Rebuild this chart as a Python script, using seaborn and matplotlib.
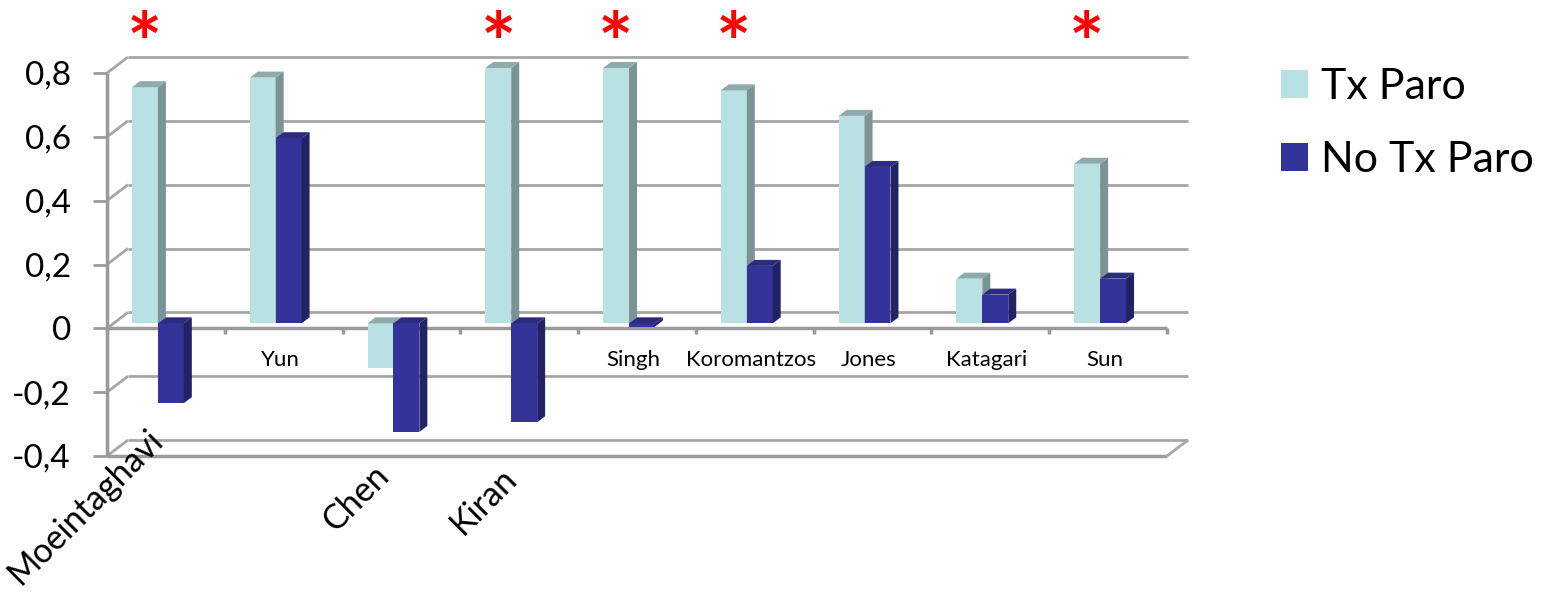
import numpy as np
import pandas as pd
import seaborn as sns
import matplotlib.pyplot as plt
from matplotlib.patches import Polygon, Patch
from matplotlib.transforms import ScaledTranslation

# Data
studies = ["Moeintaghavi", "Yun", "Chen", "Kiran", "Singh", "Koromantzos", "Jones", "Katagari", "Sun"]
tx_paro = [0.74, 0.77, -0.14, 0.80, 0.80, 0.73, 0.65, 0.14, 0.50]
no_tx_paro = [-0.25, 0.58, -0.34, -0.31, -0.01, 0.18, 0.49, 0.09, 0.14]
series = ["Tx Paro", "No Tx Paro"]
significant = ["Moeintaghavi", "Kiran", "Singh", "Koromantzos", "Sun"]
rotated_labels = ["Moeintaghavi", "Chen", "Kiran"]
y_ticks = [-0.4, -0.2, 0, 0.2, 0.4, 0.6, 0.8]
y_tick_labels = ["-0,4", "-0,2", "0", "0,2", "0,4", "0,6", "0,8"]

df = pd.DataFrame({
    "study": studies * 2,
    "group": [series[0]] * len(studies) + [series[1]] * len(studies),
    "value": tx_paro + no_tx_paro,
})

plt.rcParams["font.family"] = ["Lato", "DejaVu Sans"]

face = {"Tx Paro": "#B9E0E2", "No Tx Paro": "#333399"}
side = {"Tx Paro": "#7A9394", "No Tx Paro": "#222266"}
top = {"Tx Paro": "#8FAAAB", "No Tx Paro": "#2B2B80"}
grid_col = "#A6A6A6"

W, H = 1542, 605
fig = plt.figure(figsize=(W / 100, H / 100), dpi=100)
ax = fig.add_axes([107 / W, (H - 456) / H, 1060 / W, 383 / H])

sns.barplot(data=df, x="study", y="value", hue="group", order=studies, hue_order=series,
            palette=[face[s] for s in series], width=0.44, saturation=1, linewidth=0,
            legend=False, ax=ax, zorder=3)

ax.set_xlim(-0.5, len(studies) - 0.5)
ax.set_ylim(-0.4, 0.8)

# pixel -> data scale
p0 = ax.transData.transform((0, 0))
p1 = ax.transData.transform((1, 1))
px_x, px_y = p1[0] - p0[0], p1[1] - p0[1]

# back wall offset, bar plane offset, bar depth
bx, by = 21 / px_x, 16 / px_y
ddx, ddy = 8 / px_x, 6 / px_y
bar_trans = ax.transData + ScaledTranslation(-8 / 100, 5 / 100, fig.dpi_scale_trans)

x0, x1 = -0.5, len(studies) - 0.5
kw = dict(color=grid_col, lw=2, clip_on=False, zorder=1, solid_capstyle="butt")
for v in y_ticks:
    ax.plot([x0 + bx, x1 + bx], [v + by, v + by], **kw)
    ax.plot([x0, x0 + bx], [v, v + by], **kw)
ax.plot([x1, x1 + bx], [-0.4, -0.4 + by], **kw)

front = dict(color="#9A9A9A", lw=2.5, clip_on=False, zorder=2, solid_capstyle="butt")
ax.plot([x0, x1], [0, 0], **front)
ax.plot([x0, x1], [-0.4, -0.4], **front)
ax.plot([x0, x0], [-0.4, 0.8], **front)
for b in np.arange(x0, x1 + 0.01, 1):
    ax.plot([b, b], [0, -6 / px_y], **front)

# 3D faces on each bar
n = len(studies)
for k, p in enumerate(list(ax.patches)):
    grp = series[0] if k < n else series[1]
    z = 3 if grp == series[0] else 5
    p.set_transform(bar_trans)
    p.set_zorder(z)
    p.set_clip_on(False)
    x, w = p.get_x(), p.get_width()
    y_lo = min(p.get_y(), p.get_y() + p.get_height())
    y_hi = max(p.get_y(), p.get_y() + p.get_height())
    side_poly = Polygon([(x + w, y_lo), (x + w, y_hi), (x + w + ddx, y_hi + ddy), (x + w + ddx, y_lo + ddy)],
                        closed=True, facecolor=side[grp], lw=0, transform=bar_trans, zorder=z,
                        clip_on=False)
    top_poly = Polygon([(x, y_hi), (x + w, y_hi), (x + w + ddx, y_hi + ddy), (x + ddx, y_hi + ddy)],
                       closed=True, facecolor=top[grp], lw=0, transform=bar_trans, zorder=z,
                       clip_on=False)
    ax.add_patch(side_poly)
    ax.add_patch(top_poly)

for s in ax.spines.values():
    s.set_visible(False)
ax.set_xticks([])
ax.set_yticks(y_ticks, y_tick_labels)
ax.tick_params(axis="y", length=10, width=2, color="#9A9A9A", pad=16, labelsize=24)
ax.set_xlabel("")
ax.set_ylabel("")

# category labels
rot_pos = {"Moeintaghavi": (-0.165, -0.298), "Chen": (-0.243, -0.408), "Kiran": (-0.162, -0.417)}
for i, s in enumerate(studies):
    if s in rotated_labels:
        dx, yy = rot_pos[s]
        ax.text(i + dx, yy, s, rotation=45, rotation_mode="anchor", ha="right", va="top",
                fontsize=24.5, clip_on=False)
    else:
        ax.text(i - 0.03, -0.10, s, ha="center", va="center", fontsize=16)

# significance markers
for s in significant:
    i = studies.index(s)
    ax.text(i - 0.18, 0.80, "*", color="#FF0000", fontsize=60, fontweight="bold",
            ha="center", va="baseline", clip_on=False)

handles = [Patch(facecolor=face[s]) for s in series]
fig.legend(handles, series, loc="upper left", bbox_to_anchor=(1281 / W, 1 - 68 / H),
           frameon=False, fontsize=31, handlelength=0.63, handleheight=0.63,
           handletextpad=0.3, labelspacing=0.82, borderpad=0, borderaxespad=0)

fig.savefig("out.png", dpi=100)
